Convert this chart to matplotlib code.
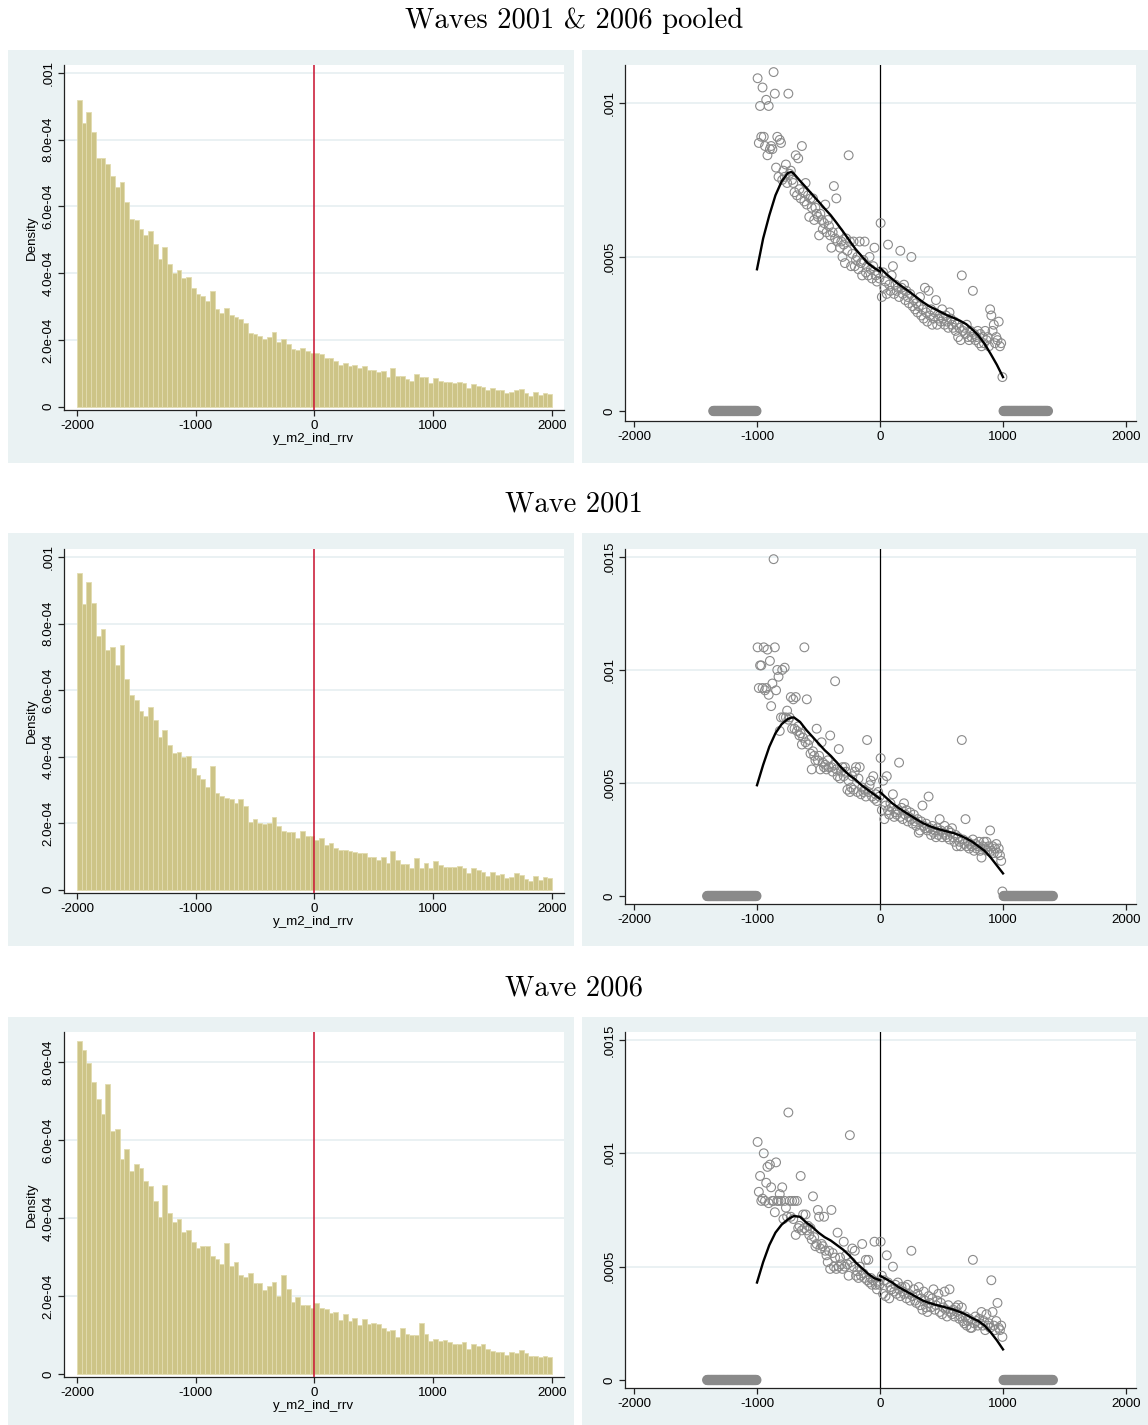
import numpy as np
import matplotlib
matplotlib.use("Agg")
import matplotlib.pyplot as plt
from matplotlib.patches import Rectangle

W, H = 1148, 1425
DPI = 100

# ---------------- data ----------------
titles = ["Waves 2001 & 2006 pooled", "Wave 2001", "Wave 2006"]

# histogram: 100 bins of width 40 from -2000 to 2000 (density, units 1e-4)
hist_edges = np.arange(-2000, 2001, 40)
hist_pooled = [9.18, 8.50, 8.82, 8.24, 7.44, 7.44, 7.28, 6.91, 6.58, 6.73, 6.12, 5.62, 5.59, 5.32, 5.13, 5.27, 4.88, 4.42, 4.80, 4.28,
               4.02, 4.09, 3.87, 3.89, 3.55, 3.38, 3.31, 3.16, 3.47, 2.92, 2.82, 2.95, 2.74, 2.68, 2.64, 2.50, 2.21, 2.19, 2.12, 2.02,
               2.08, 2.23, 1.93, 2.03, 1.87, 1.74, 1.70, 1.75, 1.66, 1.62,
               1.61, 1.59, 1.47, 1.47, 1.37, 1.25, 1.31, 1.23, 1.25, 1.16, 1.21, 1.10, 1.10, 1.05, 1.07, 0.88, 1.16, 0.91, 0.91, 0.84,
               0.78, 0.97, 0.88, 0.88, 0.70, 0.85, 0.78, 0.75, 0.74, 0.70, 0.73, 0.70, 0.55, 0.69, 0.62, 0.60, 0.49, 0.55, 0.50, 0.50,
               0.40, 0.43, 0.50, 0.52, 0.40, 0.33, 0.43, 0.34, 0.40, 0.37]
hist_2001 = [9.51, 8.60, 9.25, 8.63, 7.63, 7.83, 7.20, 7.28, 6.75, 7.36, 6.32, 5.84, 5.71, 5.37, 5.22, 5.50, 5.11, 4.60, 4.79, 4.35,
             4.10, 4.14, 3.99, 4.01, 3.66, 3.44, 3.32, 3.10, 3.71, 2.91, 2.82, 2.77, 2.74, 2.61, 2.72, 2.51, 2.04, 2.12, 2.01, 1.97,
             2.00, 2.18, 1.91, 1.76, 1.73, 1.72, 1.55, 1.75, 1.62, 1.61,
             1.50, 1.55, 1.34, 1.41, 1.26, 1.18, 1.20, 1.15, 1.14, 1.10, 1.09, 0.99, 0.98, 0.90, 0.98, 0.80, 1.17, 0.90, 0.78, 0.76,
             0.66, 0.95, 0.65, 0.80, 0.65, 0.85, 0.74, 0.68, 0.68, 0.67, 0.71, 0.66, 0.51, 0.65, 0.58, 0.54, 0.41, 0.53, 0.45, 0.47,
             0.35, 0.37, 0.49, 0.45, 0.33, 0.26, 0.42, 0.30, 0.39, 0.35]
hist_2006 = [8.55, 8.32, 7.98, 7.50, 7.06, 6.68, 7.43, 6.22, 6.29, 5.51, 5.76, 5.20, 5.38, 5.28, 4.95, 4.83, 4.44, 4.03, 4.85, 4.14,
             3.90, 3.97, 3.64, 3.68, 3.38, 3.22, 3.28, 3.28, 3.02, 2.95, 2.81, 3.35, 2.77, 2.87, 2.53, 2.49, 2.59, 2.34, 2.34, 2.15,
             2.26, 2.36, 2.01, 2.55, 2.18, 1.84, 1.97, 1.76, 1.77, 1.70,
             1.82, 1.68, 1.66, 1.57, 1.58, 1.38, 1.55, 1.35, 1.44, 1.26, 1.40, 1.29, 1.32, 1.27, 1.18, 1.09, 1.14, 0.94, 1.19, 1.03,
             1.01, 1.01, 1.32, 1.03, 0.85, 0.91, 0.85, 0.88, 0.83, 0.76, 0.78, 0.82, 0.63, 0.76, 0.71, 0.76, 0.63, 0.58, 0.57, 0.56,
             0.49, 0.56, 0.53, 0.61, 0.53, 0.46, 0.46, 0.43, 0.45, 0.43]

# density cells (width 10) left/right of cutoff, density in units 1e-5
cell_left_x = np.arange(-995, 0, 10)
cell_right_x = np.arange(5, 1000, 10)
cells_pooled_left = [108, 87, 99, 89, 105, 89, 86, 101, 83, 99, 85, 86, 85, 110, 103, 79, 89, 76, 88, 87,
                     75, 78, 76, 80, 74, 103, 77, 78, 75, 74, 71, 83, 70, 82, 72, 69, 86, 71, 68, 74,
                     67, 70, 63, 69, 66, 69, 62, 66, 64, 63, 57, 64, 62, 59, 61, 67, 58, 62, 60, 57,
                     53, 58, 73, 56, 69, 55, 58, 53, 55, 50, 54, 48, 56, 52, 83, 55, 47, 51, 55, 47,
                     49, 50, 46, 55, 48, 44, 49, 55, 45, 47, 44, 50, 46, 43, 47, 53, 44, 42, 45, 43]
cells_pooled_right = [61, 37, 45, 40, 42, 38, 54, 41, 39, 44, 47, 38, 41, 39, 40, 37, 52, 40, 38, 41,
                      36, 39, 37, 35, 38, 50, 34, 36, 33, 35, 32, 34, 37, 31, 33, 30, 40, 32, 29, 39,
                      31, 33, 28, 30, 32, 36, 28, 30, 31, 29, 33, 30, 28, 31, 29, 27, 32, 30, 28, 27,
                      29, 26, 28, 24, 27, 23, 44, 26, 27, 25, 28, 24, 23, 26, 24, 39, 25, 23, 24, 26,
                      22, 25, 21, 24, 22, 26, 23, 24, 21, 33, 31, 26, 28, 22, 24, 23, 29, 21, 22, 11]
cells_2001_left = [110, 92, 102, 102, 92, 110, 91, 92, 109, 89, 104, 84, 94, 149, 110, 91, 100, 97, 73, 79,
                   100, 79, 101, 79, 82, 78, 79, 88, 74, 87, 74, 88, 73, 75, 71, 72, 67, 70, 110, 68,
                   87, 67, 69, 63, 56, 64, 62, 60, 74, 60, 62, 56, 68, 59, 57, 58, 56, 60, 57, 71,
                   57, 55, 58, 95, 56, 53, 65, 52, 55, 57, 53, 57, 55, 47, 51, 46, 48, 53, 47, 55,
                   57, 46, 52, 57, 45, 48, 46, 47, 44, 69, 46, 49, 51, 44, 53, 43, 45, 42, 46, 44]
cells_2001_right = [61, 38, 51, 34, 40, 53, 38, 36, 41, 39, 45, 35, 37, 36, 38, 59, 35, 39, 34, 41,
                    36, 38, 33, 35, 37, 34, 32, 36, 33, 31, 34, 28, 29, 33, 40, 31, 30, 32, 29, 44,
                    30, 27, 31, 28, 29, 26, 30, 27, 34, 29, 26, 28, 31, 27, 26, 29, 25, 28, 30, 26,
                    24, 27, 22, 26, 24, 22, 69, 25, 23, 34, 22, 24, 21, 23, 22, 25, 20, 23, 21, 22,
                    24, 20, 17, 22, 24, 21, 24, 20, 22, 29, 20, 22, 19, 21, 23, 19, 21, 18, 15.5, 2]
cells_2006_left = [105, 83, 90, 79, 80, 100, 79, 87, 94, 78, 95, 85, 79, 79, 74, 96, 79, 79, 82, 79,
                   85, 71, 79, 76, 72, 118, 79, 72, 79, 71, 79, 64, 79, 67, 68, 90, 66, 73, 67, 73,
                   66, 68, 64, 67, 62, 81, 63, 59, 60, 75, 72, 58, 60, 59, 72, 57, 55, 52, 57, 49,
                   75, 56, 50, 54, 49, 65, 50, 54, 51, 49, 61, 50, 55, 51, 46, 108, 52, 58, 50, 57,
                   46, 48, 45, 50, 46, 60, 47, 45, 53, 44, 53, 43, 45, 42, 44, 61, 42, 40, 43, 42]
cells_2006_right = [61, 46, 38, 44, 37, 55, 43, 36, 41, 40, 50, 39, 42, 38, 43, 40, 37, 41, 39, 38,
                    41, 36, 42, 38, 35, 57, 37, 40, 35, 34, 38, 41, 33, 36, 31, 39, 35, 32, 30, 37,
                    34, 32, 36, 40, 31, 33, 35, 38, 30, 34, 29, 32, 39, 31, 28, 33, 40, 30, 29, 31,
                    28, 32, 30, 33, 27, 28, 32, 26, 25, 28, 24, 26, 27, 23, 23, 53, 25, 28, 26, 24,
                    27, 25, 30, 24, 26, 22, 29, 24, 25, 23, 44, 30, 24, 22, 26, 34, 23, 22, 24, 19]

# empty cells outside the support (density 0), cell width 5
zero_cells_pooled = np.concatenate([np.arange(-1355, -1000, 5), np.arange(1005, 1370, 5)])
zero_cells_wave = np.concatenate([np.arange(-1405, -1000, 5), np.arange(1005, 1410, 5)])

# local polynomial fit, evaluated every 50 units (units 1e-5)
fit_left_x = [-1000, -950, -900, -850, -800, -750, -720, -700, -650, -600, -550, -500, -450, -400,
              -350, -300, -250, -200, -150, -100, -50, 0]
fit_right_x = [0, 50, 100, 150, 200, 250, 300, 350, 400, 450, 500, 550, 600, 650, 700, 750, 800,
               850, 900, 950, 1000]
fit_pooled_left = [46, 56, 63.5, 70, 74.5, 77.2, 77.6, 77.0, 74.7, 72.5, 70.2, 68, 65.7, 63.5,
                   60.9, 58.2, 55.4, 52.6, 50.3, 48, 46.5, 45.3]
fit_pooled_right = [46.5, 44.5, 42.8, 41.2, 39.8, 38.4, 36.8, 35.3, 34, 33, 32, 31, 30.2, 29.3,
                    28.2, 26.5, 24.5, 21.8, 18.5, 15, 11]
fit_2001_left = [49, 58, 66, 72, 76, 78.3, 78.9, 79, 77, 73.5, 70.5, 67.5, 64.5, 62, 59, 56,
                 53.5, 51.5, 49, 47, 45, 43]
fit_2001_right = [46, 43.5, 41, 39, 37.2, 35.5, 33.8, 32.2, 31, 30, 29.2, 28.5, 27.8, 26.8, 25.5,
                  24, 22, 20, 17, 13.5, 10]
fit_2006_left = [43, 52, 59.5, 65, 68.5, 70.8, 71.8, 72.3, 72, 69.5, 67.5, 65, 63, 61.5, 59.5,
                 57.5, 55, 52, 49.5, 47, 45, 44]
fit_2006_right = [46, 44.5, 43, 41, 39.5, 38, 36.5, 35, 34, 33.2, 32.5, 31.8, 31, 30, 28.8, 27.3,
                  26, 24, 21, 17.5, 13.5]

hist_yticks = [[0, 2e-4, 4e-4, 6e-4, 8e-4, 1e-3],
               [0, 2e-4, 4e-4, 6e-4, 8e-4, 1e-3],
               [0, 2e-4, 4e-4, 6e-4, 8e-4]]
hist_yticklabels = [["0", "2.0e-04", "4.0e-04", "6.0e-04", "8.0e-04", ".001"],
                    ["0", "2.0e-04", "4.0e-04", "6.0e-04", "8.0e-04", ".001"],
                    ["0", "2.0e-04", "4.0e-04", "6.0e-04", "8.0e-04"]]
dens_yticks = [[0, 5e-4, 1e-3], [0, 5e-4, 1e-3, 1.5e-3], [0, 5e-4, 1e-3, 1.5e-3]]
dens_yticklabels = [["0", ".0005", ".001"], ["0", ".0005", ".001", ".0015"],
                    ["0", ".0005", ".001", ".0015"]]
xticks = [-2000, -1000, 0, 1000, 2000]
xticklabels = ["-2000", "-1000", "0", "1000", "2000"]

# ---------------- style ----------------
BG = "#EAF2F3"
GRID = "#E6EFF1"
BAR_FC = "#CDC487"
BAR_EC = "#E2DCB0"
RED = "#C8102E"
MK = "#8A8A8A"
SANS = ["Liberation Sans", "DejaVu Sans"]
TSIZE = 9.6

fig = plt.figure(figsize=(W / DPI, H / DPI), dpi=DPI)
fig.patch.set_facecolor("white")


def px_axes(x0, y0, x1, y1):
    return fig.add_axes([x0 / W, 1 - y1 / H, (x1 - x0) / W, (y1 - y0) / H])


def bg_rect(x0, y0, x1, y1):
    fig.add_artist(Rectangle((x0 / W, 1 - y1 / H), (x1 - x0) / W, (y1 - y0) / H,
                             transform=fig.transFigure, facecolor=BG, edgecolor="none", zorder=0))


def style_axes(ax, yt, ytl):
    for s in ["top", "right"]:
        ax.spines[s].set_visible(False)
    for s in ["left", "bottom"]:
        ax.spines[s].set_linewidth(0.9)
        ax.spines[s].set_color("#222222")
    ax.set_xticks(xticks)
    ax.set_xticklabels(xticklabels, family=SANS, fontsize=TSIZE)
    ax.set_yticks(yt)
    ax.set_yticklabels(ytl, family=SANS, fontsize=TSIZE, rotation=90, va="center")
    ax.tick_params(direction="out", length=4.5, width=0.9, color="#222222", pad=2.5)
    for y in yt[1:]:
        ax.axhline(y, color=GRID, lw=1.2, zorder=0.5)


row_bg_top = [50, 533, 1017]
row_title_y = [21, 504, 988]
hist_data = [hist_pooled, hist_2001, hist_2006]
cells_left = [cells_pooled_left, cells_2001_left, cells_2006_left]
cells_right = [cells_pooled_right, cells_2001_right, cells_2006_right]
zero_cells = [zero_cells_pooled, zero_cells_wave, zero_cells_wave]
fits_left = [fit_pooled_left, fit_2001_left, fit_2006_left]
fits_right = [fit_pooled_right, fit_2001_right, fit_2006_right]

hist_ylims = [(-0.00001, 0.001024), (-0.00001, 0.001024), (-0.0000077, 0.000877)]
dens_ylims = [(-0.0000325, 0.001123), (-0.0000354, 0.001535), (-0.0000353, 0.001535)]
hist_box = [(15, 360), (16, 360), (15, 360)]
dens_box = [(15, 371), (16, 371), (15, 371)]

for r in range(3):
    top = row_bg_top[r]
    bot = min(top + 413, H)
    bg_rect(8, top, 574, bot)
    bg_rect(582, top, W, bot)
    fig.text(0.5, 1 - row_title_y[r] / H, titles[r], ha="center", va="center",
             family=["cmr10", "DejaVu Serif"], fontsize=20.6)

    # ---- histogram ----
    ax = px_axes(64, top + hist_box[r][0], 564, top + hist_box[r][1])
    ax.set_facecolor("white")
    vals = np.array(hist_data[r]) * 1e-4
    ax.bar(hist_edges[:-1], vals, width=40, align="edge", color=BAR_FC,
           edgecolor=BAR_EC, linewidth=0.6, zorder=2)
    ax.axvline(0, color=RED, lw=1.1, zorder=3)
    ax.set_xlim(-2109, 2101)
    ax.set_ylim(*hist_ylims[r])
    style_axes(ax, hist_yticks[r], hist_yticklabels[r])
    ax.set_ylabel("Density", family=SANS, fontsize=TSIZE, labelpad=0)
    ax.yaxis.set_label_coords(-0.052, 0.5)
    ax.set_xlabel("y_m2_ind_rrv", family=SANS, fontsize=TSIZE, labelpad=1)

    # ---- density cells + fit ----
    ax2 = px_axes(625, top + dens_box[r][0], 1136, top + dens_box[r][1])
    ax2.set_facecolor("white")
    ax2.axvline(0, color="black", lw=0.9, zorder=1)
    zc = zero_cells[r]
    ax2.scatter(zc, np.zeros(len(zc)), s=40, facecolors="none", edgecolors=MK,
                linewidths=1.0, zorder=2)
    ax2.scatter(cell_left_x, np.array(cells_left[r]) * 1e-5, s=40, facecolors="none",
                edgecolors=MK, linewidths=0.8, zorder=2)
    ax2.scatter(cell_right_x, np.array(cells_right[r]) * 1e-5, s=40, facecolors="none",
                edgecolors=MK, linewidths=0.8, zorder=2)
    ax2.plot(fit_left_x, np.array(fits_left[r]) * 1e-5, color="black", lw=1.7, zorder=3,
             solid_joinstyle="round")
    ax2.plot(fit_right_x, np.array(fits_right[r]) * 1e-5, color="black", lw=1.7, zorder=3,
             solid_joinstyle="round")
    ax2.set_xlim(-2073, 2081)
    ax2.set_ylim(*dens_ylims[r])
    style_axes(ax2, dens_yticks[r], dens_yticklabels[r])

fig.savefig("out.png", dpi=DPI)
